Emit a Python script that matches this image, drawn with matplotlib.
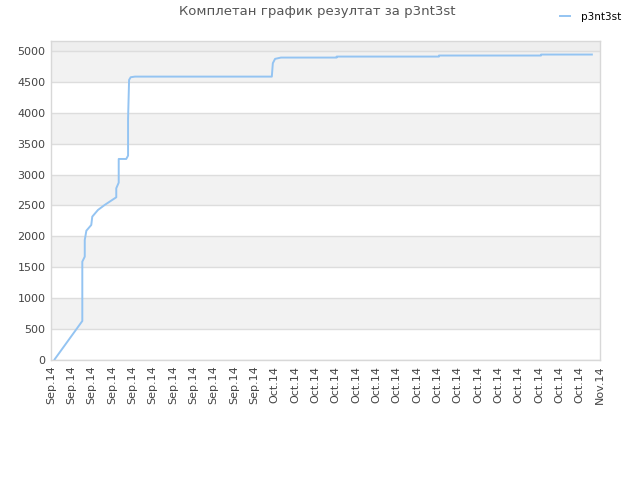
import matplotlib
matplotlib.use("Agg")
import matplotlib.pyplot as plt

# Data (x in tick-index units, y = cumulative score)
x_vals = [0.18, 1.54, 1.54, 1.66, 1.66, 1.74, 1.98, 2.03, 2.31, 2.64, 3.21, 3.21,
          3.33, 3.33, 3.70, 3.79, 3.79, 3.84, 3.92, 4.13, 10.86, 10.91, 11.02,
          11.31, 14.05, 14.05, 19.08, 19.08, 24.10, 24.10, 26.60]
y_vals = [11, 631, 1591, 1672, 1942, 2092, 2184, 2319, 2427, 2508, 2632, 2778,
          2869, 3252, 3252, 3306, 3895, 4531, 4574, 4584, 4584, 4801, 4871,
          4892, 4892, 4908, 4908, 4925, 4925, 4941, 4941]
tick_labels = ["Sep.14"] * 11 + ["Oct.14"] * 16 + ["Nov.14"]
y_ticks = list(range(0, 5001, 500))
series_name = "p3nt3st"
title = "Комплетан график резултат за p3nt3st"

fig = plt.figure(figsize=(6.4, 4.8), dpi=100)
ax = fig.add_axes([51/640, 1-360/480, (600-51)/640, (360-41)/480])

ymax = 5160
ax.set_xlim(0, len(tick_labels) - 1)
ax.set_ylim(0, ymax)

# alternating bands
for i, lo in enumerate(y_ticks[:-1]):
    if i % 2 == 1:
        ax.axhspan(lo, lo + 500, color="#f2f2f2", zorder=0, lw=0)
ax.axhspan(5000, ymax, color="#eeeeee", zorder=0, lw=0)
for yt in y_ticks:
    ax.axhline(yt, color="#dddddd", lw=1, zorder=1)

ax.plot(x_vals, y_vals, color="#94c4f2", lw=1.4, zorder=3, label=series_name)

ax.set_yticks(y_ticks)
ax.set_yticklabels([str(v) for v in y_ticks])
ax.set_xticks(range(len(tick_labels)))
ax.set_xticklabels(tick_labels, rotation=90)
ax.tick_params(axis="both", length=0, labelsize=8, colors="#444444", pad=4)

for s in ax.spines.values():
    s.set_color("#d8d8d8")
    s.set_linewidth(1)

fig.text(0.495, 0.975, title, ha="center", va="center", fontsize=9.5, color="#555555")
leg = fig.legend(loc="upper right", bbox_to_anchor=(0.985, 0.995), frameon=False,
                 fontsize=7.5, handlelength=1.0, handletextpad=1.0)

fig.savefig("out.png", dpi=100)
